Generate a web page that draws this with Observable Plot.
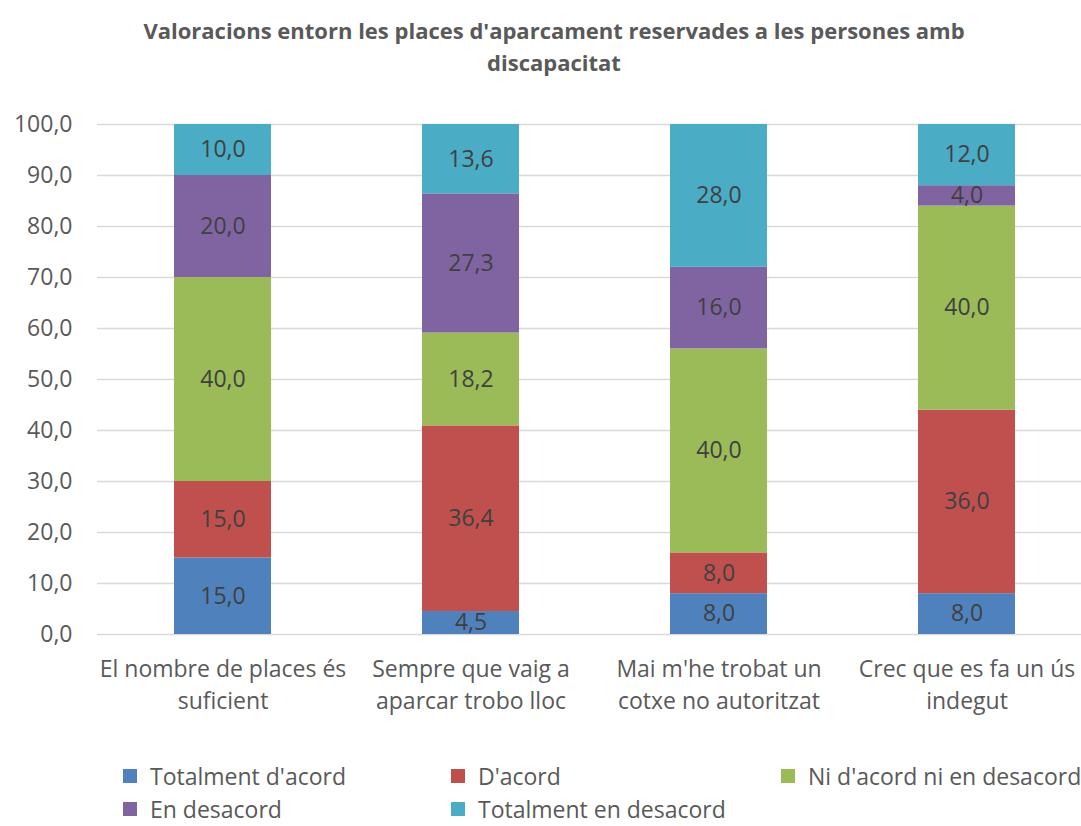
<!DOCTYPE html>
<html>
<head>
<meta charset="utf-8">
<script src="https://cdn.jsdelivr.net/npm/d3@7"></script>
<script src="https://cdn.jsdelivr.net/npm/@observablehq/plot@0.6"></script>
<style>
  html, body { margin: 0; padding: 0; background: #fff; }
  #wrap { position: relative; width: 1081px; height: 826px; font-family: "Open Sans", sans-serif; color: #595959; }
  .title { position: absolute; left: 554px; transform: translateX(-50%); white-space: nowrap; font-weight: bold; font-size: 22px; line-height: 32px; text-align: center; }
  #chart { position: absolute; left: 0; top: 100px; }
  .leg { position: absolute; font-size: 23px; line-height: 20px; height: 20px; white-space: nowrap; }
  .sw { position: absolute; width: 14px; height: 14px; }
</style>
</head>
<body>
<div id="wrap"></div>
<script>
const titleLines = ["Valoracions entorn les places d'aparcament reservades a les persones amb", "discapacitat"];
const categories = [
  "El nombre de places és suficient",
  "Sempre que vaig a aparcar trobo lloc",
  "Mai m'he trobat un cotxe no autoritzat",
  "Crec que es fa un ús indegut"
];
const categoryLabels = [
  "El nombre de places és\nsuficient",
  "Sempre que vaig a\naparcar trobo lloc",
  "Mai m'he trobat un\ncotxe no autoritzat",
  "Crec que es fa un ús\nindegut"
];
const series = ["Totalment d'acord", "D'acord", "Ni d'acord ni en desacord", "En desacord", "Totalment en desacord"];
const colors = ["#4F81BD", "#C0504D", "#9BBB59", "#8064A2", "#4BACC6"];
const totalmentAcord = [15.0, 4.5, 8.0, 8.0];
const acord = [15.0, 36.4, 8.0, 36.0];
const niNi = [40.0, 18.2, 40.0, 40.0];
const desacord = [20.0, 27.3, 16.0, 4.0];
const totalmentDesacord = [10.0, 13.6, 28.0, 12.0];
const yTicks = [0, 10, 20, 30, 40, 50, 60, 70, 80, 90, 100];

const seriesValues = [totalmentAcord, acord, niNi, desacord, totalmentDesacord];
const rows = [];
categories.forEach((c, i) => {
  series.forEach((s, j) => rows.push({cat: c, series: s, value: seriesValues[j][i]}));
});
const fmt = v => d3.format(".1f")(v).replace(".", ",");

const wrap = document.getElementById("wrap");
titleLines.forEach((t, i) => {
  const d = document.createElement("div");
  d.className = "title";
  d.style.top = (14 + i * 32) + "px";
  d.textContent = t;
  wrap.appendChild(d);
});

const chart = Plot.plot({
  width: 1081,
  height: 640,
  marginTop: 24,
  marginBottom: 106,
  marginLeft: 97,
  marginRight: 0,
  x: {domain: categories, range: [97, 1091], paddingInner: 0.61, paddingOuter: 0.305, axis: null, label: null},
  y: {domain: [0, 100], axis: null, label: null},
  color: {domain: series, range: colors},
  style: {fontFamily: "'Open Sans', sans-serif", fontSize: "23px", color: "#595959", background: "white"},
  marks: [
    Plot.gridY(yTicks, {stroke: "#d9d9d9", strokeOpacity: 1, strokeWidth: 1.5}),
    Plot.barY(rows, {x: "cat", y: "value", fill: "series", z: "series"}),
    Plot.text(rows, Plot.stackY({x: "cat", y: "value", z: "series", text: d => fmt(d.value), fill: "#404040", fontSize: 23})),
    Plot.axisY(yTicks, {tickSize: 0, tickPadding: 25, tickFormat: fmt, fontSize: 23, label: null}),
    Plot.axisX({tickSize: 0, tickPadding: 20, tickFormat: d => categoryLabels[categories.indexOf(d)], fontSize: 23, lineHeight: 1.39, label: null})
  ]
});
chart.id = "chart";
wrap.appendChild(chart);

const legPos = [
  {x: 123, y: 776}, {x: 451, y: 776}, {x: 781, y: 776},
  {x: 123, y: 809}, {x: 451, y: 809}
];
series.forEach((s, i) => {
  const p = legPos[i];
  const sw = document.createElement("div");
  sw.className = "sw";
  sw.style.left = p.x + "px";
  sw.style.top = (p.y - 7) + "px";
  sw.style.background = colors[i];
  wrap.appendChild(sw);
  const t = document.createElement("div");
  t.className = "leg";
  t.style.left = (p.x + 27) + "px";
  t.style.top = (p.y - 10) + "px";
  t.textContent = s;
  wrap.appendChild(t);
});
</script>
</body>
</html>
